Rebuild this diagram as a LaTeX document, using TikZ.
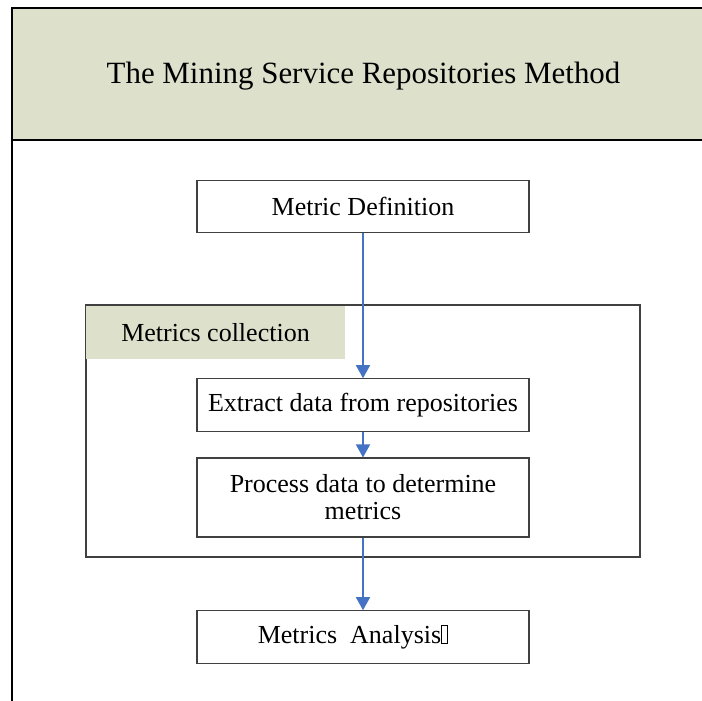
\documentclass[tikz,border=0pt]{standalone}
\usepackage{fontspec}
\setmainfont{Liberation Serif}
\usetikzlibrary{arrows.meta}
\definecolor{bandgreen}{RGB}{221,225,204}
\definecolor{flowblue}{RGB}{68,114,196}

\begin{document}
\begin{tikzpicture}%
[stepbox/.style={draw=black!75, line width=0.6pt, minimum width=6.64cm, minimum height=1.05cm, inner sep=0pt, align=center, font=\fontsize{14.8}{15.3}\selectfont},%
flow/.style={draw=flowblue, line width=1.1pt, -{Triangle[width=8pt,length=7.5pt]}, color=flowblue},%
band/.style={fill=bandgreen, inner sep=0pt}]

\useasboundingbox (0,0) rectangle (14.04,-14);

% heading band and outer frame
\fill[bandgreen] (0.24,-0.16) rectangle (14.1,-2.8);
\draw[line width=0.9pt] (14.1,-0.16) -- (0.24,-0.16) -- (0.24,-14.1);
\draw[line width=0.9pt] (0.24,-2.8) -- (14.1,-2.8);
\node (title) at (7.27,-1.52) {\fontsize{17.6}{20}\selectfont The Mining Service Repositories Method};

\node[stepbox] (metricdef) at (7.26,-4.13) {Metric Definition};

% collection frame
\node[draw=black!75, line width=0.6pt, minimum width=11.08cm, minimum height=5.04cm] (collection) at (7.26,-8.62) {};
\node[band, minimum width=5.18cm, minimum height=1.06cm, font=\fontsize{14.8}{16}\selectfont] (collabel) at (4.31,-6.65) {Metrics collection};

\node[stepbox] (extract) at (7.26,-8.1) {Extract data from repositories};
\node[stepbox, minimum height=1.58cm] (process) at (7.26,-9.95) {Process data to determine\\metrics};

\node[stepbox] (analysis) at (7.26,-12.74) {Metrics\ \ Analysis{\setlength{\fboxsep}{0pt}\setlength{\fboxrule}{0.5pt}\fbox{\rule{0pt}{10pt}\hspace{3pt}}}\hspace{0.4cm}};

\draw[flow] (metricdef) -- (extract);
\draw[flow] (extract) -- (process);
\draw[flow] (process) -- (analysis);
\end{tikzpicture}
\end{document}
